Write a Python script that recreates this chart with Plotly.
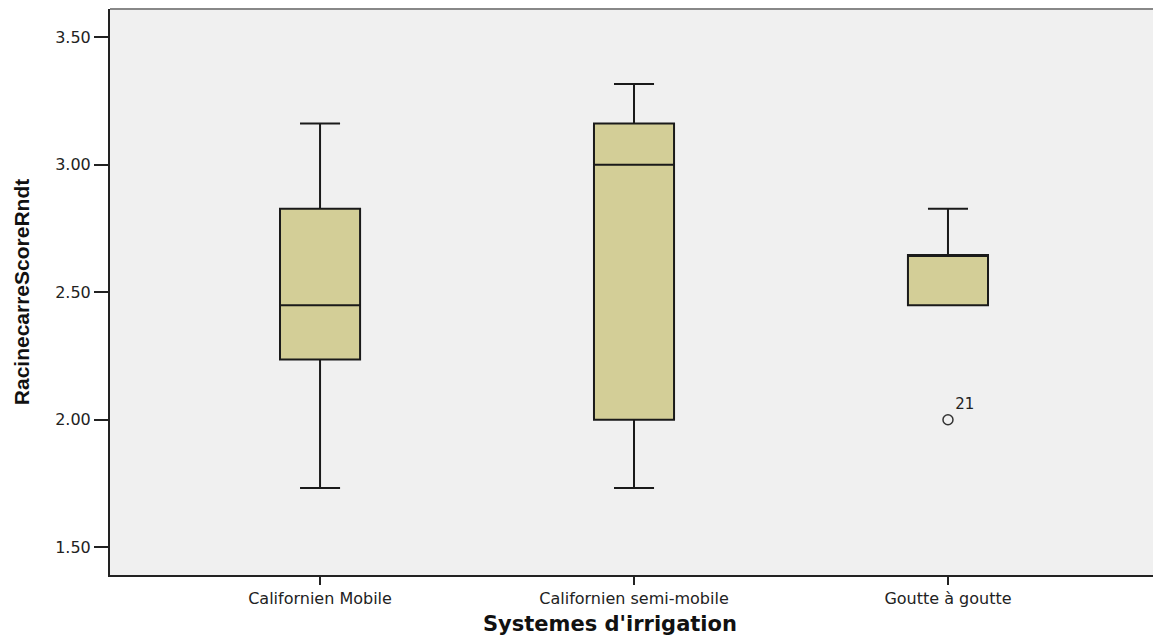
import plotly.graph_objects as go

categories = ["Californien Mobile", "Californien semi-mobile", "Goutte à goutte"]
lower_whisker = [1.732, 1.732, 2.449]
q1_values = [2.236, 2.000, 2.449]
median_values = [2.449, 3.000, 2.646]
q3_values = [2.828, 3.162, 2.646]
upper_whisker = [3.162, 3.317, 2.828]

outlier_category = ["Goutte à goutte"]
outlier_values = [2.0]
outlier_labels = ["21"]

y_tick_values = [1.5, 2.0, 2.5, 3.0, 3.5]
y_tick_labels = ["1.50", "2.00", "2.50", "3.00", "3.50"]

fig = go.Figure()
fig.add_trace(go.Box(
    x=categories,
    q1=q1_values,
    median=median_values,
    q3=q3_values,
    lowerfence=lower_whisker,
    upperfence=upper_whisker,
    fillcolor="#D3CE97",
    line=dict(color="#1a1a1a", width=2),
    width=0.255,
    whiskerwidth=0.5,
    boxpoints=False,
    showlegend=False,
    hoverinfo="skip",
))
fig.add_trace(go.Scatter(
    x=outlier_category,
    y=outlier_values,
    mode="markers+text",
    marker=dict(symbol="circle-open", size=10, color="#333333", line=dict(width=1.5)),
    text=outlier_labels,
    textposition="top right",
    textfont=dict(family="DejaVu Sans", size=15, color="#222222"),
    showlegend=False,
    hoverinfo="skip",
))

fig.update_layout(
    width=1153, height=637,
    margin=dict(l=110, r=0, t=9, b=62),
    paper_bgcolor="white",
    plot_bgcolor="#F0F0F0",
    font=dict(family="DejaVu Sans", color="#222222"),
    xaxis=dict(
        type="category",
        range=[-0.669, 2.653],
        showgrid=False, zeroline=False,
        showline=True, linecolor="#222222", linewidth=2,
        ticks="outside", ticklen=8, tickwidth=2, tickcolor="#222222",
        tickfont=dict(family="DejaVu Sans", size=16, color="#222222"),
    ),
    yaxis=dict(
        range=[1.391, 3.611],
        tickvals=y_tick_values, ticktext=y_tick_labels,
        showgrid=False, zeroline=False,
        showline=True, linecolor="#222222", linewidth=2,
        ticks="outside", ticklen=14, tickwidth=2, tickcolor="#222222",
        tickfont=dict(family="DejaVu Sans", size=16, color="#222222"),
        title=dict(text="<b>RacinecarreScoreRndt</b>",
                   font=dict(family="Liberation Sans", size=21, color="#111111"),
                   standoff=20),
    ),
    annotations=[dict(text="<b>Systemes d'irrigation</b>", xref="paper", yref="paper",
                      x=0.479, y=-0.087, xanchor="center", yanchor="middle",
                      showarrow=False,
                      font=dict(family="DejaVu Sans", size=21, color="#111111"))],
    shapes=[dict(type="line", xref="paper", yref="paper", x0=0, x1=1, y0=1, y1=1,
                 line=dict(color="#888888", width=2))],
)

post = ("document.body.style.margin='0';document.body.style.overflow='hidden';"
        "var gd=document.getElementById('{plot_id}');"
        "Plotly.relayout(gd,{width:1153,height:637});")
fig.write_html("out.html", post_script=post, config={"displayModeBar": False})
